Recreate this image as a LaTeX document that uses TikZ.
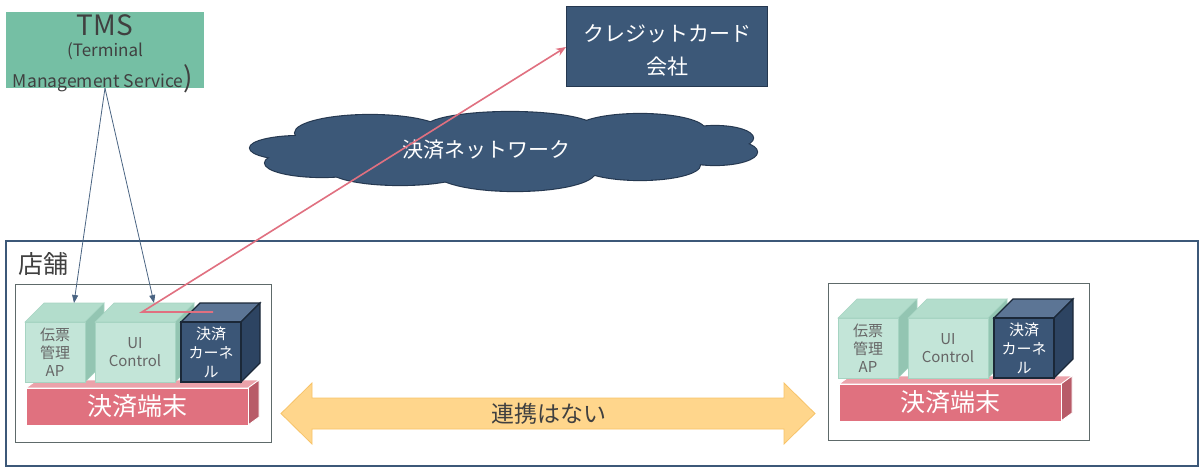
\documentclass[tikz,border=0pt]{standalone}
\usepackage{fontspec}
\setmainfont{Noto Sans CJK JP}
\usetikzlibrary{arrows.meta}

\definecolor{tmsgreen}{HTML}{75BFA4}
\definecolor{navy}{HTML}{3C5878}
\definecolor{navyline}{HTML}{253850}
\definecolor{txtgray}{HTML}{404040}
\definecolor{mintfront}{HTML}{C3E5D8}
\definecolor{minttop}{HTML}{B3DDCC}
\definecolor{mintside}{HTML}{93C5B2}
\definecolor{mintedge}{HTML}{A6D4C2}
\definecolor{kernfront}{HTML}{3B5677}
\definecolor{kerntop}{HTML}{5C7595}
\definecolor{kernside}{HTML}{2D4462}
\definecolor{kernedge}{HTML}{1B2838}
\definecolor{rosefront}{HTML}{E0717F}
\definecolor{rosetop}{HTML}{EBA2AA}
\definecolor{roseside}{HTML}{B85B68}
\definecolor{redline}{HTML}{E07080}
\definecolor{linkline}{HTML}{4A6482}
\definecolor{orangefill}{HTML}{FFD68C}
\definecolor{orangeline}{HTML}{F7C368}
\definecolor{boxgray}{HTML}{5E6A6A}

\newcommand{\fsz}[2]{\fontsize{#1}{#2}\selectfont}

% cube: name, front top-left x y, front bottom-right x y, colour set, text
\newcommand{\blockcube}[7]{%
  \filldraw[#6 top] (#2,#3) -- (#2+19,#3-19) -- (#4+19,#3-19) -- (#4,#3) -- cycle;
  \filldraw[#6 side] (#4,#3) -- (#4+19,#3-19) -- (#4+19,#5-19) -- (#4,#5) -- cycle;
  \node[#6 front, minimum width={(#4-#2)*1pt}, minimum height={(#5-#3)*1pt}]
    (#1) at ({(#2+#4)/2},{(#3+#5)/2}) {#7};
  \coordinate (#1-back) at ({(#2+#4)/2+19},{#3-19});
}

% flat bar under the cubes
\newcommand{\basebar}[6]{%
  \filldraw[rose top] (#2,#3) -- (#2+11,#3-8) -- (#4+11,#3-8) -- (#4,#3) -- cycle;
  \filldraw[rose side] (#4,#3) -- (#4+11,#3-8) -- (#4+11,#5-8) -- (#4,#5) -- cycle;
  \node[rose front, minimum width={(#4-#2)*1pt}, minimum height={(#5-#3)*1pt}]
    (#1) at ({(#2+#4)/2},{(#3+#5)/2}) {#6};
}

\newcommand{\terminal}[1]{%
  \basebar{base#1}{26}{388}{248}{425}{決済端末}
  \blockcube{ap#1}{25}{322}{85}{382}{mint}{伝票\\管理\\AP}
  \blockcube{ui#1}{95}{322}{175}{382}{mint}{UI\\Control}
  \blockcube{kn#1}{181}{322}{241}{382}{kern}{決済\\カーネ\\ル}
}

\begin{document}
\begin{tikzpicture}[x=1pt,y=-1pt,
  mint top/.style={fill=minttop,draw=mintedge,line width=0.6pt},
  mint side/.style={fill=mintside,draw=mintedge,line width=0.6pt},
  mint front/.style={fill=mintfront,draw=mintedge,line width=0.6pt,inner sep=0pt,
    align=center,text=txtgray!80!white,font=\fsz{15}{18}},
  kern top/.style={fill=kerntop,draw=kernedge,line width=1.2pt},
  kern side/.style={fill=kernside,draw=kernedge,line width=1.2pt},
  kern front/.style={fill=kernfront,draw=kernedge,line width=1.2pt,inner sep=0pt,
    align=center,text=white,font=\fsz{15}{19}},
  rose top/.style={fill=rosetop,draw=white,line width=0.8pt},
  rose side/.style={fill=roseside,draw=white,line width=0.8pt},
  rose front/.style={fill=rosefront,draw=white,line width=0.8pt,inner sep=0pt,
    text=white,font=\fsz{25}{30}},
  termbox/.style={draw=boxgray,line width=1pt},
  tmslink/.style={draw=linkline,line width=0.8pt,-{Triangle[length=8pt,width=6pt]}},
  redlink/.style={draw=redline,line width=1.6pt,-{Stealth[length=10pt,width=8pt]}}]

\useasboundingbox (0,0) rectangle (1200,468);

% outer service boxes
\node[fill=tmsgreen,minimum width=198pt,minimum height=76pt,inner sep=0pt] (tms) at (105,50) {};
\node[text=txtgray,font=\fsz{28}{28}] (tmstitle) at (105,25) {TMS};
\node[text=txtgray,font=\fsz{17}{17}] (tmssub) at (105,51) {(Terminal};
\node[text=txtgray,font=\fsz{17.5}{17.5}] (tmsfull) at (103,79) {Management Service\fsz{28}{28})};

\node[fill=navy,draw=navyline,line width=1pt,minimum width=201pt,minimum height=80pt,
  align=center,text=white,font=\fsz{21}{33}] (card) at (667,47) {\rule{0pt}{24pt}クレジットカード\\会社};

% cloud: outline of every lobe, then the fill on top
\foreach \pass in {0,1}{
  \foreach \cx/\cy/\rx/\ry in {300/148/50/12, 322/163/57/14, 370/133/75/18, 510/128/85/16,
      640/130/65/16, 715/138/38/12, 715/152/42/13, 640/165/60/15, 515/172/80/19,
      400/170/70/15, 500/150/200/28}{
    \ifnum\pass=0
      \draw[navyline,line width=2.2pt] (\cx,\cy) ellipse [x radius=\rx, y radius=\ry];
    \else
      \fill[navy] (\cx,\cy) ellipse [x radius=\rx, y radius=\ry];
    \fi
  }
}
\node[text=white,font=\fsz{21}{21}] (nettext) at (486,150) {決済ネットワーク};

% store
\draw[draw=navy,line width=1.3pt] (6,241) rectangle (1198,466);
\node[text=txtgray,font=\fsz{25}{25}] (store) at (43,264) {店舗};

\draw[termbox] (15,284) rectangle (271,442);
\terminal{1}
\begin{scope}[shift={(813,-4)}]
\draw[termbox] (15,287) rectangle (276,444);
\terminal{2}
\end{scope}

% no link between the terminals
\filldraw[fill=orangefill,draw=orangeline,line width=0.8pt] (281,413.5) -- (312,383) -- (312,398)
  -- (784,398) -- (784,383) -- (815,413.5) -- (784,444) -- (784,429) -- (312,429) -- (312,444) -- cycle;
\node[text=txtgray,font=\fsz{23}{23}] (nolink) at (549,414) {連携はない};

\draw[tmslink] (tms.south) -- (ap1-back);
\draw[tmslink] (tms.south) -- (ui1-back);

\coordinate (rstart) at (213,312);
\coordinate (rbend) at (142,312);
\draw[redlink] (rstart) -- (rbend) -- (card.west);

\end{tikzpicture}
\end{document}
